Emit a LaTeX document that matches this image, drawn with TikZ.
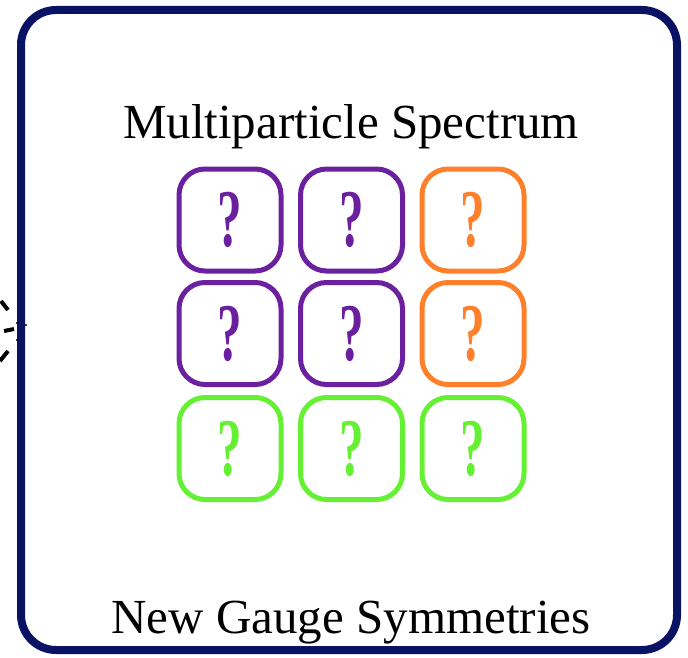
\documentclass[tikz,border=0pt]{standalone}
\usepackage{fontspec}
\setmainfont{Liberation Serif}
\newfontfamily\qfont{Liberation Serif}
\definecolor{framecol}{HTML}{0A1264}
\definecolor{qpurple}{HTML}{6B20A0}
\definecolor{qorange}{HTML}{FF7F2A}
\definecolor{qgreen}{HTML}{66F033}
\newcommand{\qm}{\scalebox{0.6}[1]{?}}
\begin{document}
\begin{tikzpicture}[x=1pt,y=-1pt,
  qbox/.style={draw=#1,text=#1,line width=5pt,rounded corners=26pt,
    minimum width=102pt,minimum height=102pt,inner sep=0pt,
    font=\qfont\bfseries\fontsize{82}{82}\selectfont},
  title/.style={font=\fontsize{49}{58}\selectfont,anchor=base,inner sep=0pt},
  ray/.style={line width=4pt,black}]
\useasboundingbox (0,0) rectangle (688,658);
% rays at left
\coordinate (r1a) at (1,301); \coordinate (r1b) at (8,310);
\coordinate (r2a) at (4,331); \coordinate (r2b) at (14,329);
\coordinate (r3a) at (0,361); \coordinate (r3b) at (8,351);
\draw[ray] (r1a) -- (r1b);
\draw[ray] (r2a) -- (r2b);
\draw[ray] (r3a) -- (r3b);
% frame
\draw[framecol,line width=8pt,rounded corners=35pt] (21,10) rectangle (677,650);
\fill[black] (17,323) circle (1.2pt) (26,325) circle (1.2pt) (17,340) circle (1.2pt);
\node[title] (top) at (351,139) {Multiparticle Spectrum};
\node[title] (bot) at (351,633) {New Gauge Symmetries};
% grid
\node[qbox=qpurple] (b11) at (230,220) {\qm};
\node[qbox=qpurple] (b12) at (351.5,220) {\qm};
\node[qbox=qorange] (b13) at (473,220) {\qm};
\node[qbox=qpurple] (b21) at (230,333.5) {\qm};
\node[qbox=qpurple] (b22) at (351.5,333.5) {\qm};
\node[qbox=qorange] (b23) at (473,333.5) {\qm};
\node[qbox=qgreen] (b31) at (230,448.5) {\qm};
\node[qbox=qgreen] (b32) at (351.5,448.5) {\qm};
\node[qbox=qgreen] (b33) at (473,448.5) {\qm};
\end{tikzpicture}
\end{document}
